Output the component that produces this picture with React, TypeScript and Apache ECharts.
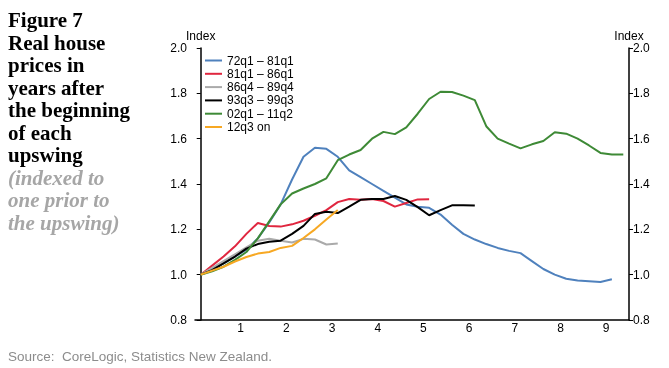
import React, { useEffect, useRef } from "react";
import * as echarts from "echarts";

// Quarterly index values (index 0 = quarter before the upswing = 1.0)
const seriesNames = ["72q1 \u2013 81q1", "81q1 \u2013 86q1", "86q4 \u2013 89q4", "93q3 \u2013 99q3", "02q1 \u2013 11q2", "12q3 on"];
const seriesColors = ["#4f81bd", "#e0263f", "#aaaaaa", "#000000", "#3e8a36", "#f7a823"];

const s72q1 = [1.00, 1.025, 1.05, 1.08, 1.11, 1.16, 1.23, 1.31, 1.42, 1.52, 1.56, 1.555, 1.52, 1.46, 1.43, 1.40, 1.37, 1.34, 1.31, 1.30, 1.295, 1.265, 1.22, 1.18, 1.155, 1.135, 1.118, 1.105, 1.095, 1.06, 1.025, 1.0, 0.982, 0.974, 0.971, 0.968, 0.98];
const s81q1 = [1.00, 1.04, 1.08, 1.125, 1.18, 1.228, 1.215, 1.212, 1.222, 1.238, 1.26, 1.285, 1.32, 1.334, 1.33, 1.334, 1.325, 1.30, 1.316, 1.332, 1.333];
const s86q4 = [1.00, 1.03, 1.06, 1.09, 1.12, 1.15, 1.158, 1.15, 1.142, 1.158, 1.155, 1.133, 1.137];
const s93q3 = [1.00, 1.02, 1.05, 1.08, 1.115, 1.135, 1.145, 1.15, 1.18, 1.215, 1.268, 1.278, 1.272, 1.30, 1.33, 1.334, 1.334, 1.347, 1.33, 1.298, 1.262, 1.285, 1.306, 1.306, 1.305];
const s02q1 = [1.00, 1.015, 1.035, 1.065, 1.10, 1.16, 1.235, 1.31, 1.358, 1.38, 1.40, 1.425, 1.505, 1.53, 1.55, 1.60, 1.63, 1.62, 1.65, 1.71, 1.775, 1.807, 1.806, 1.79, 1.77, 1.655, 1.60, 1.578, 1.557, 1.575, 1.59, 1.628, 1.622, 1.60, 1.57, 1.537, 1.53, 1.53];
const s12q3 = [1.00, 1.018, 1.035, 1.058, 1.078, 1.093, 1.10, 1.118, 1.127, 1.162, 1.20, 1.243, 1.285];
const allSeries = [s72q1, s81q1, s86q4, s93q3, s02q1, s12q3];

const titleLines = ["Figure 7", "Real house", "prices in", "years after", "the beginning", "of each", "upswing"];
const subtitleLines = ["(indexed to", "one prior to", "the upswing)"];
const sourceText = "Source:  CoreLogic, Statistics New Zealand.";

const SANS = '"Liberation Sans", Arial, sans-serif';
const SERIF = '"Liberation Serif", "Times New Roman", serif';

export default function App() {
  const ref = useRef<HTMLDivElement>(null);
  useEffect(() => {
    if (!ref.current) return;
    const chart = echarts.init(ref.current, undefined, { renderer: "svg" });
    const yAxisBase = (pos: "left" | "right", margin: number) => ({
      type: "value" as const,
      position: pos,
      min: 0.8,
      max: 2.0,
      interval: 0.2,
      name: "Index",
      nameLocation: "end" as const,
      nameGap: 5,
      nameTextStyle: { color: "#000", fontSize: 12, fontFamily: SANS },
      axisLine: { show: true, lineStyle: { color: "#000", width: 1.5 } },
      axisTick: { show: true, inside: false, length: 4, lineStyle: { color: "#000" } },
      axisLabel: { color: "#000", fontSize: 12, fontFamily: SANS, margin, formatter: (v: number) => v.toFixed(1) },
      splitLine: { show: false },
    });
    chart.setOption({
      animation: false,
      grid: { left: 195, right: 40, top: 48, bottom: 48, containLabel: false },
      legend: {
        orient: "vertical",
        left: 200,
        top: 49.5,
        icon: "rect",
        itemWidth: 17,
        itemHeight: 2,
        itemGap: 1.3,
        textStyle: { color: "#000", fontSize: 12, lineHeight: 12, fontFamily: SANS },
        data: seriesNames,
      },
      xAxis: {
        type: "value",
        min: -0.5,
        max: 37.5,
        interval: 4,
        axisLine: { show: true, lineStyle: { color: "#000", width: 1.5 } },
        axisTick: { show: false },
        splitLine: { show: false },
        axisLabel: {
          color: "#000",
          fontSize: 12,
          fontFamily: SANS,
          margin: 2,
          showMinLabel: false,
          showMaxLabel: false,
          formatter: (v: number) => (v > 0 && v < 37 ? String(Math.round((v + 0.5) / 4)) : ""),
        },
      },
      yAxis: [yAxisBase("left", 8), yAxisBase("right", 4)],
      graphic: [
        {
          type: "text",
          left: 8,
          top: 9,
          style: {
            text: titleLines.join("\n"),
            fontSize: 21,
            fontWeight: "bold",
            fontFamily: SERIF,
            lineHeight: 22.5,
            fill: "#000",
          },
        },
        {
          type: "text",
          left: 8,
          top: 9 + 22.5 * titleLines.length,
          style: {
            text: subtitleLines.join("\n"),
            fontSize: 21,
            fontWeight: "bold",
            fontStyle: "italic",
            fontFamily: SERIF,
            lineHeight: 22.5,
            fill: "#a6a6a6",
          },
        },
        {
          type: "text",
          left: 8,
          top: 349,
          style: { text: sourceText, fontSize: 13.5, fontFamily: SANS, fill: "#8c8c8c" },
        },
      ],
      series: allSeries.map((arr, i) => ({
        name: seriesNames[i],
        type: "line",
        yAxisIndex: 0,
        data: arr.map((v, q) => [q, v]),
        symbol: "none",
        showSymbol: false,
        lineStyle: { color: seriesColors[i], width: 2 },
        itemStyle: { color: seriesColors[i] },
      })),
    });
    return () => chart.dispose();
  }, []);
  return <div ref={ref} style={{ position: "fixed", left: 0, top: 0, width: 669, height: 368 }} />;
}
